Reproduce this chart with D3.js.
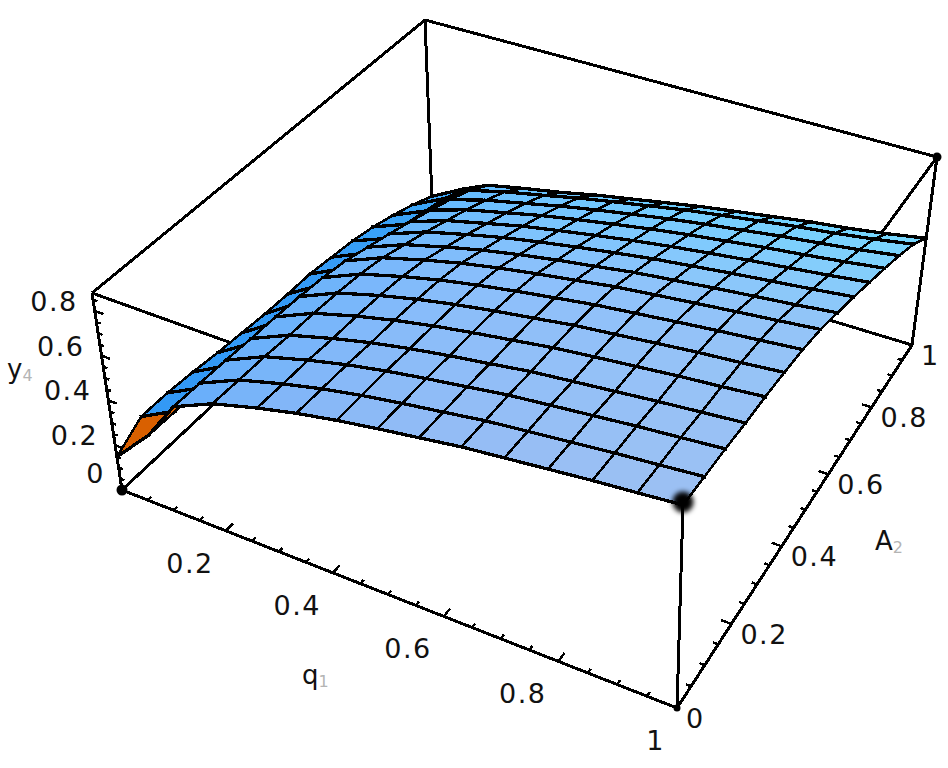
<!DOCTYPE html>
<html><head><meta charset="utf-8">
<script src="https://cdn.jsdelivr.net/npm/d3@7/dist/d3.min.js"></script>
<style>
html,body{margin:0;padding:0;background:#fff}
svg{display:block}
text{font-family:"DejaVu Sans",sans-serif;fill:#111}
</style></head><body><div id="chart"></div>
<script>
// ---- data ----
const qGrid = [0,.0714,.127,.203,.2857,.3571,.4286,.5,.5714,.6429,.7143,.7857,.8571,.9286,1];
const aGrid = [0,.0714,.1429,.2143,.2857,.3571,.4286,.5,.5714,.6429,.7143,.7857,.8571,.9286,1];
const yRow00 = [.148,.31,.485,.567,.623,.665,.70,.73,.757,.785,.805,.825,.845,.862,.88];
const yRow01 = [.22,.307,.481,.562,.618,.66,.695,.725,.752,.78,.80,.82,.84,.857,.875];
const yRow02 = [.22,.305,.477,.558,.614,.656,.691,.721,.748,.776,.796,.816,.836,.853,.871];
const yRow03 = [.211,.30,.47,.549,.604,.646,.681,.711,.738,.766,.786,.806,.826,.844,.862];
const yRow04 = [.198,.298,.466,.545,.60,.641,.676,.706,.733,.761,.782,.802,.822,.839,.858];
const yRow05 = [.189,.293,.458,.536,.591,.632,.667,.697,.724,.752,.772,.793,.813,.83,.849];
const yRow06 = [.18,.286,.447,.523,.577,.618,.652,.682,.71,.737,.758,.779,.799,.817,.836];
const yRow07 = [.176,.273,.428,.501,.554,.595,.629,.659,.686,.714,.735,.755,.775,.794,.814];
const yRow08 = [.176,.254,.397,.466,.517,.557,.591,.621,.648,.676,.697,.718,.738,.757,.779];
const yRow09 = [.163,.234,.366,.431,.48,.519,.552,.582,.61,.637,.659,.681,.701,.721,.743];
const yRow10 = [.15,.212,.332,.392,.438,.477,.509,.539,.568,.594,.617,.639,.659,.68,.703];
const yRow11 = [.128,.19,.297,.352,.396,.434,.466,.496,.525,.551,.574,.597,.617,.639,.663];
const yRow12 = [.097,.166,.259,.308,.35,.387,.419,.449,.478,.504,.527,.551,.571,.593,.619];
const yRow13 = [.062,.139,.216,.26,.299,.335,.366,.396,.426,.451,.475,.499,.519,.543,.571];
const yRow14 = [.018,.10,.155,.19,.225,.26,.29,.32,.35,.375,.40,.425,.445,.47,.50];
const yRows = [yRow00,yRow01,yRow02,yRow03,yRow04,yRow05,yRow06,yRow07,yRow08,yRow09,yRow10,yRow11,yRow12,yRow13,yRow14];

const qTicks = [.2,.4,.6,.8,1];
const aTicks = [0,.2,.4,.6,.8,1];
const yTicks = [0,.2,.4,.6,.8];
const shadeFront = ["#3399f5","#5aaaf8","#6aaffa","#78b4f9","#82b6f8","#88b8f7","#8cbaf6","#90bbf6","#93bcf5","#95bdf5","#97bef4","#99bff4","#9bc0f3","#9cc0f3"];
const shadeMid   = ["#3399f5","#5fb0fa","#70b5fa","#7ab8fb","#82bcfb","#88befb","#8cc0fb","#8dc0fb","#8fc1fa","#90c2fa","#91c3f9","#92c3f9","#93c4f8","#93c4f8"];
const shadeBack  = ["#3fa8f8","#55b8ff","#63beff","#68c4ff","#6cc8ff","#6ccbff","#6cccff","#6ecfff","#70d0ff","#70d2ff","#72d4fe","#72d5fe","#74d6fe","#74d8fe"];
const orangeCells = [[0,0],[1,0]];

// ---- projection of the box ----
const W=948,H=768;
const yTop=.88;
const qUnit=d3.scaleLinear().domain([0,1]).range([0,1]);
const aUnit=d3.scaleLinear().domain([0,1]).range([0,1]);
const yUnit=d3.scaleLinear().domain([0,yTop]).range([0,1]);
const warp=(v,k)=>v/(v+k*(1-v));
const corners={b00:[122,490],b10:[677,708],b11:[912,345],b01:[432,200],u00:[92,293],u10:[683,505],u11:[937,157],u01:[425,20]};
function project(q,a,y){
  const s=warp(qUnit(q),1.087), t=warp(aUnit(a),.83), f=yUnit(y);
  const mix=(k)=>{
    const bot=(1-s)*(1-t)*corners.b00[k]+s*(1-t)*corners.b10[k]+s*t*corners.b11[k]+(1-s)*t*corners.b01[k];
    const top=(1-s)*(1-t)*corners.u00[k]+s*(1-t)*corners.u10[k]+s*t*corners.u11[k]+(1-s)*t*corners.u01[k];
    return bot+(top-bot)*f;
  };
  return [mix(0),mix(1)];
}

const svg=d3.select("#chart").append("svg").attr("width",W).attr("height",H);
const defs=svg.append("defs");
defs.append("filter").attr("id","soft").attr("x","-60%").attr("y","-60%").attr("width","220%").attr("height","220%")
  .append("feGaussianBlur").attr("stdDeviation",2.4);
const line=d3.line();

// ---- box (drawn underneath the surface) ----
const boxEdges=[
  [[0,0,0],[1,0,0]],[[1,0,0],[1,1,0]],[[1,1,0],[0,1,0]],[[0,1,0],[0,0,0]],
  [[0,0,yTop],[1,0,yTop]],[[1,0,yTop],[1,1,yTop]],[[1,1,yTop],[0,1,yTop]],[[0,1,yTop],[0,0,yTop]],
  [[0,0,0],[0,0,yTop]],[[1,0,0],[1,0,yTop]],[[1,1,0],[1,1,yTop]],[[0,1,0],[0,1,yTop]]
];
const gBox=svg.append("g").attr("fill","none").attr("stroke","#000").attr("stroke-width",3).attr("shape-rendering","crispEdges");
gBox.selectAll("path").data(boxEdges).join("path").attr("d",e=>line([project(...e[0]),project(...e[1])]));

// ---- ticks ----
const gTicks=svg.append("g").attr("fill","none").attr("stroke","#000").attr("stroke-width",2.4).attr("shape-rendering","crispEdges");
const minor=d3.range(0,1.0001,.05);
const isMajor=v=>Math.abs(v*5-Math.round(v*5))<1e-6;
minor.forEach(v=>{
  const l=isMajor(v)?1:.5;
  gTicks.append("path").attr("d",line([project(v,0,0),project(v,.02*l,0)]));
  gTicks.append("path").attr("d",line([project(1,v,0),project(1-.018*l,v,0)]));
});
d3.range(0,.8501,.05).forEach(v=>{
  const l=isMajor(v)?1:.5;
  gTicks.append("path").attr("d",line([project(0,0,v),project(.016*l,0,v)]));
});

// ---- surface, back to front ----
const shade=i=>d3.scaleLinear().domain([0,.5,1]).range([shadeFront[i],shadeMid[i],shadeBack[i]]);
const gSurf=svg.append("g").attr("stroke-linecap","square").attr("shape-rendering","crispEdges");
for(let i=0;i<qGrid.length-1;i++){
  for(let j=aGrid.length-2;j>=0;j--){
    const p00=project(qGrid[i],aGrid[j],yRows[j][i]),
          p10=project(qGrid[i+1],aGrid[j],yRows[j][i+1]),
          p11=project(qGrid[i+1],aGrid[j+1],yRows[j+1][i+1]),
          p01=project(qGrid[i],aGrid[j+1],yRows[j+1][i]);
    const orange=orangeCells.some(c=>c[0]===i&&c[1]===j);
    const fill=orange?"#d96000":shade(i)((aGrid[j]+aGrid[j+1])/2);
    gSurf.append("path").attr("d",line([p00,p10,p11,p01])+"Z").attr("fill",fill).attr("stroke",fill).attr("stroke-width",1);
    gSurf.append("path").attr("d",line([p00,p10])+line([p01,p11])).attr("fill","none").attr("stroke","#000").attr("stroke-width",3.3);
    gSurf.append("path").attr("d",line([p00,p01])+line([p10,p11])).attr("fill","none").attr("stroke","#000").attr("stroke-width",2.5);
  }
}

// ---- corner dots ----
const gDots=svg.append("g").attr("fill","#000");
const dots=[[[1,0,yTop],10.5,true],[[1,1,yTop],4.5,false],[[0,0,0],5.5,false],[[1,0,0],3.5,false]];
dots.forEach(d=>{const p=project(...d[0]);
  const c=gDots.append("circle").attr("cx",p[0]).attr("cy",p[1]-(d[2]?3:0)).attr("r",d[1]);
  if(d[2])c.attr("filter","url(#soft)");});

// ---- labels ----
const fmt=v=>String(v);
const gT=svg.append("g").attr("font-size",27).attr("letter-spacing",1.5);
qTicks.forEach(v=>{const p=project(v,0,0);
  gT.append("text").attr("x",p[0]-12).attr("y",p[1]+42).attr("text-anchor","end").text(fmt(v));});
aTicks.forEach(v=>{const p=project(1,v,0);
  gT.append("text").attr("x",p[0]+9).attr("y",p[1]+20).text(fmt(v));});
yTicks.forEach(v=>{const p=project(0,0,v);
  gT.append("text").attr("x",p[0]-17).attr("y",p[1]+(v===0?-7:0)).attr("text-anchor","end").text(fmt(v));});

const titles=[["y","4",7,378],["q","1",302,684],["A","2",875,550]];
titles.forEach(t=>{
  const e=svg.append("text").attr("x",t[2]).attr("y",t[3]).attr("font-size",26).text(t[0]);
  e.append("tspan").attr("dy",3).attr("font-size",16).style("fill","#b4b4b4").text(t[1]);
});
</script></body></html>
